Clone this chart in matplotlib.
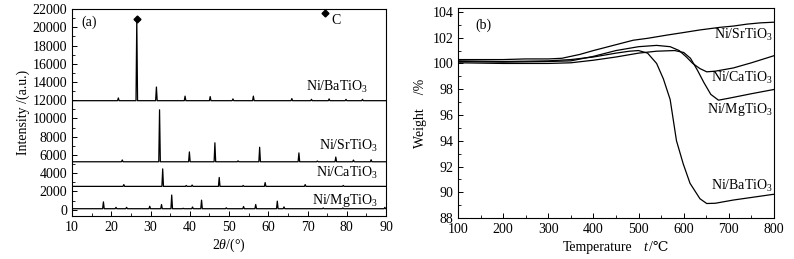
import numpy as np
import matplotlib
matplotlib.use("Agg")
from matplotlib import pyplot as plt
from matplotlib.ticker import MultipleLocator

plt.rcParams['font.family'] = ['Liberation Serif', 'DejaVu Serif']
plt.rcParams['font.size'] = 10
plt.rcParams['mathtext.fontset'] = 'custom'
plt.rcParams['mathtext.rm'] = 'Liberation Serif'
plt.rcParams['mathtext.it'] = 'Liberation Serif:italic'

# (a) XRD patterns: baseline + peak positions (2theta) and peak tops
ba_base = 11950
ba_pos = [21.8, 26.5, 31.5, 38.8, 45.2, 51.0, 56.2, 66.0, 71.0, 75.5, 79.8, 84.0]
ba_int = [12250, 20900, 13450, 12450, 12400, 12150, 12450, 12180, 12100, 12150, 12100, 12100]

sr_base = 5250
sr_pos = [22.8, 32.3, 39.9, 46.4, 52.3, 57.8, 67.8, 72.5, 77.2, 81.7, 86.2]
sr_int = [5450, 10950, 6330, 7330, 5350, 6840, 6220, 5330, 5770, 5440, 5470]

ca_base = 2550
ca_pos = [23.2, 33.1, 39.1, 40.6, 47.5, 53.6, 59.2, 69.4, 79.1]
ca_int = [2750, 4470, 2650, 2700, 3530, 2650, 2970, 2750, 2650]

mg_base = 100
mg_pos = [18.0, 21.2, 23.9, 29.8, 32.8, 35.4, 38.3, 40.7, 43.0, 49.3, 53.7,
          56.8, 62.3, 64.0, 74.0, 79.0, 89.7]
mg_int = [850, 250, 250, 370, 560, 1600, 150, 290, 1040, 200, 340,
          560, 930, 300, 180, 180, 250]

# carbon (graphite) markers
c_pos = [26.5, 74.5]
c_int = [20900, 21550]

# (b) TG curves
sr_T = [100, 150, 200, 250, 300, 330, 370, 400, 444, 488, 520, 563, 600, 636, 680, 710, 740, 770, 800]
sr_W = [100.3, 100.3, 100.3, 100.35, 100.35, 100.4, 100.7, 101.0, 101.4, 101.8, 101.95, 102.2,
        102.4, 102.6, 102.8, 102.9, 103.05, 103.15, 103.2]

ca_T = [100, 200, 300, 350, 400, 450, 500, 540, 570, 590, 606, 620, 636, 651, 670, 710, 750, 800]
ca_W = [100.15, 100.1, 100.15, 100.2, 100.55, 101.0, 101.3, 101.4, 101.3, 101.0, 100.5,
        100.0, 99.6, 99.35, 99.4, 99.65, 100.05, 100.6]

mg_T = [100, 200, 300, 350, 400, 450, 500, 540, 580, 600, 615, 630, 645, 660, 677, 700, 750, 800]
mg_W = [100.05, 100.0, 100.0, 100.05, 100.25, 100.5, 100.8, 100.95, 101.0, 100.85, 100.4,
        99.5, 98.5, 97.6, 97.15, 97.3, 97.65, 97.98]

bt_T = [100, 200, 300, 350, 400, 450, 480, 500, 520, 540, 555, 570, 584, 599, 614, 636, 651,
        670, 710, 760, 800]
bt_W = [100.2, 100.15, 100.2, 100.3, 100.5, 100.8, 100.95, 101.0, 100.8, 100.0, 98.8, 97.2,
        94.0, 92.2, 90.7, 89.5, 89.13, 89.15, 89.4, 89.65, 89.85]


def pattern(base, pos, top, w=0.2):
    xs, ys = [10], [base]
    for p, h in zip(pos, top):
        xs += [p - w, p, p + w]
        ys += [base, h, base]
    xs.append(90)
    ys.append(base)
    return xs, ys


fig = plt.figure(figsize=(7.94, 2.59), dpi=100)
ax1 = fig.add_axes([0.0907, 0.166, 0.3955, 0.799])
ax2 = fig.add_axes([0.5768, 0.158, 0.398, 0.811])

for base, pos, top in [(ba_base, ba_pos, ba_int), (sr_base, sr_pos, sr_int),
                       (ca_base, ca_pos, ca_int), (mg_base, mg_pos, mg_int)]:
    xs, ys = pattern(base, pos, top)
    ax1.plot(xs, ys, color='black', lw=0.9)

ax1.plot(c_pos, c_int, 'D', color='black', ms=3.5, ls='none')
ax1.text(76.0, 20800, 'C', ha='left', va='center')
ax1.text(12.5, 20500, '(a)', ha='left', va='center')
ax1.text(85.3, 13500, 'Ni/BaTiO$_3$', ha='right', va='center')
ax1.text(87.9, 7000, 'Ni/SrTiO$_3$', ha='right', va='center')
ax1.text(87.9, 4000, 'Ni/CaTiO$_3$', ha='right', va='center')
ax1.text(87.9, 1050, 'Ni/MgTiO$_3$', ha='right', va='center')

ax1.set_xlim(10, 90)
ax1.set_ylim(-700, 22000)
ax1.xaxis.set_major_locator(MultipleLocator(10))
ax1.xaxis.set_minor_locator(MultipleLocator(5))
ax1.yaxis.set_major_locator(MultipleLocator(2000))
ax1.yaxis.set_minor_locator(MultipleLocator(1000))
ax1.set_xlabel('2$\\mathit{\\theta}$/(°)', labelpad=2)
ax1.set_ylabel('Intensity /(a.u.)', labelpad=2)

for T, W in [(sr_T, sr_W), (ca_T, ca_W), (mg_T, mg_W), (bt_T, bt_W)]:
    ax2.plot(T, W, color='black', lw=0.9)

ax2.text(138, 103.0, '(b)', ha='left', va='center')
ax2.text(797, 102.2, 'Ni/SrTiO$_3$', ha='right', va='center')
ax2.text(797, 98.9, 'Ni/CaTiO$_3$', ha='right', va='center')
ax2.text(797, 96.4, 'Ni/MgTiO$_3$', ha='right', va='center')
ax2.text(797, 90.5, 'Ni/BaTiO$_3$', ha='right', va='center')

ax2.set_xlim(100, 800)
ax2.set_ylim(88, 104.3)
ax2.xaxis.set_major_locator(MultipleLocator(100))
ax2.xaxis.set_minor_locator(MultipleLocator(50))
ax2.yaxis.set_major_locator(MultipleLocator(2))
ax2.yaxis.set_minor_locator(MultipleLocator(1))
ax2.set_ylabel('Weight    /%', labelpad=4)

# x label of (b): "Temperature   t /℃" with italic t
ax2.text(0.552, -0.108, 'Temperature', transform=ax2.transAxes, ha='right', va='top')
ax2.text(0.592, -0.108, 't', style='italic', transform=ax2.transAxes, ha='center', va='top')
ax2.text(0.604, -0.108, '/℃', transform=ax2.transAxes, ha='left', va='top')

for ax in (ax1, ax2):
    ax.tick_params(which='both', direction='in', top=False, right=False, labelsize=10)
    ax.tick_params(which='major', length=3.5, width=0.7)
    ax.tick_params(which='minor', length=2, width=0.6)
    for s in ax.spines.values():
        s.set_linewidth(0.8)

fig.savefig('out.png', dpi=100)
